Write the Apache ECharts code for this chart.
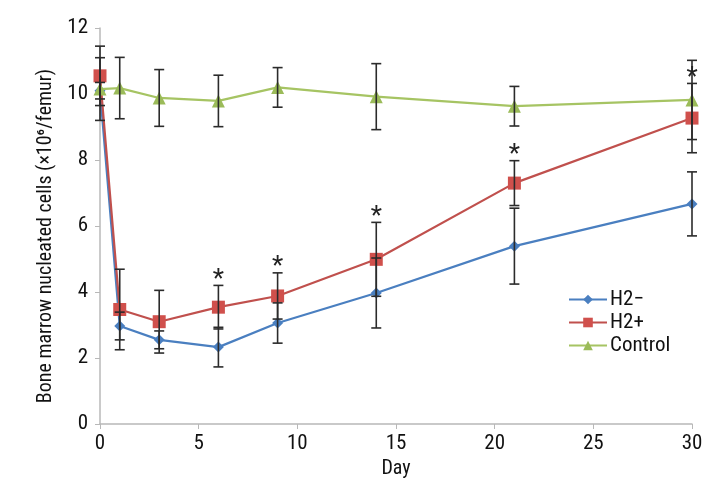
<!DOCTYPE html>
<html><head><meta charset="utf-8">
<script src="https://cdn.jsdelivr.net/npm/echarts@6/dist/echarts.min.js"></script>
<style>html,body{margin:0;padding:0;background:#fff}#c{width:720px;height:485px}</style>
</head><body><div id="c"></div>
<script>
const FONT = '"Roboto Condensed","Liberation Sans Narrow",sans-serif';
const days = [0, 1, 3, 6, 9, 14, 21, 30];
const h2minus = [10.1, 2.97, 2.55, 2.33, 3.06, 3.97, 5.39, 6.67];
const h2minusErr = [0.25, 0.42, 0.27, 0.6, 0.61, 1.06, 1.15, 0.97];
const h2plus = [10.55, 3.47, 3.1, 3.54, 3.88, 4.99, 7.3, 9.27];
const h2plusErr = [0.9, 1.22, 0.95, 0.66, 0.7, 1.12, 0.68, 1.05];
const control = [10.15, 10.18, 9.88, 9.79, 10.2, 9.92, 9.63, 9.82];
const controlErr = [0.95, 0.93, 0.86, 0.78, 0.6, 1.0, 0.6, 1.2];
const sigDays = [6, 9, 14, 21, 30];
const xTicks = [0, 5, 10, 15, 20, 25, 30];
const yTicks = [0, 2, 4, 6, 8, 10, 12];

const pts = (vals) => days.map((d, i) => [d, vals[i]]);
const errData = (vals, errs) => days.map((d, i) => [d, vals[i] - errs[i], vals[i] + errs[i]]);

function errRender(params, api) {
  const x = api.value(0);
  const lo = api.coord([x, api.value(1)]);
  const hi = api.coord([x, api.value(2)]);
  const w = 5;
  const st = {stroke: '#2b2b2b', lineWidth: 1.6};
  return {type: 'group', children: [
    {type: 'line', shape: {x1: lo[0], y1: lo[1], x2: hi[0], y2: hi[1]}, style: st},
    {type: 'line', shape: {x1: lo[0] - w, y1: lo[1], x2: lo[0] + w, y2: lo[1]}, style: st},
    {type: 'line', shape: {x1: hi[0] - w, y1: hi[1], x2: hi[0] + w, y2: hi[1]}, style: st}
  ]};
}

const starData = sigDays.map(d => {
  const i = days.indexOf(d);
  return [d, h2plus[i] + h2plusErr[i]];
});

const chart = echarts.init(document.getElementById('c'));
chart.setOption({
  animation: false,
  backgroundColor: '#fff',
  grid: {left: 100, right: 28, top: 28, bottom: 61},
  xAxis: {
    type: 'value', min: 0, max: 30, interval: 5,
    name: 'Day', nameLocation: 'middle', nameGap: 34,
    nameTextStyle: {fontFamily: FONT, fontSize: 20, color: '#111'},
    axisLine: {lineStyle: {color: '#b8b8b8', width: 1.5}},
    axisTick: {show: true, length: 5, lineStyle: {color: '#b8b8b8'}},
    axisLabel: {fontFamily: FONT, fontSize: 21, color: '#111', margin: 9},
    splitLine: {show: false}
  },
  yAxis: {
    type: 'value', min: 0, max: 12, interval: 2,
    name: 'Bone marrow nucleated cells (\u00d710\u2076/femur)', nameLocation: 'middle', nameGap: 44,
    nameTextStyle: {fontFamily: FONT, fontSize: 20, color: '#111', padding: [0, 0, 0, -20]},
    axisLine: {show: true, lineStyle: {color: '#b8b8b8', width: 1.5}},
    axisTick: {show: true, length: 5, lineStyle: {color: '#b8b8b8'}},
    axisLabel: {fontFamily: FONT, fontSize: 21, color: '#111', margin: 12},
    splitLine: {show: false}
  },
  legend: {
    orient: 'vertical', left: 563, top: 284, itemGap: 2,
    itemWidth: 38, itemHeight: 12,
    textStyle: {fontFamily: FONT, fontSize: 21, color: '#111', padding: [0, 0, 0, -2]},
    data: ['H2\u2212', 'H2+', 'Control']
  },
  series: [
    {name: 'H2\u2212', type: 'line', data: pts(h2minus), symbol: 'diamond', symbolSize: 11,
     itemStyle: {color: '#4a7fc0'}, lineStyle: {width: 2.2, color: '#4a7fc0'}, z: 3},
    {name: 'H2+', type: 'line', data: pts(h2plus), symbol: 'rect', symbolSize: 13,
     itemStyle: {color: '#d0504c'}, lineStyle: {width: 2.2, color: '#c0504d'}, z: 4},
    {name: 'Control', type: 'line', data: pts(control), symbol: 'triangle', symbolSize: 13,
     itemStyle: {color: '#9bbb59'}, lineStyle: {width: 2.2, color: '#a6c463'}, z: 5},
    {type: 'custom', renderItem: errRender, data: errData(h2minus, h2minusErr), z: 6, encode: {x: 0, y: [1, 2]}},
    {type: 'custom', renderItem: errRender, data: errData(h2plus, h2plusErr), z: 6, encode: {x: 0, y: [1, 2]}},
    {type: 'custom', renderItem: errRender, data: errData(control, controlErr), z: 6, encode: {x: 0, y: [1, 2]}},
    {type: 'custom', data: starData, z: 7, encode: {x: 0, y: 1},
     renderItem: (params, api) => {
       const p = api.coord([api.value(0), api.value(1)]);
       return {type: 'text', x: p[0], y: p[1] - 5, style: {text: '*', fontFamily: FONT, fontSize: 26, fill: '#222', align: 'center', verticalAlign: 'middle'}};
     }}
  ]
});
</script></body></html>
